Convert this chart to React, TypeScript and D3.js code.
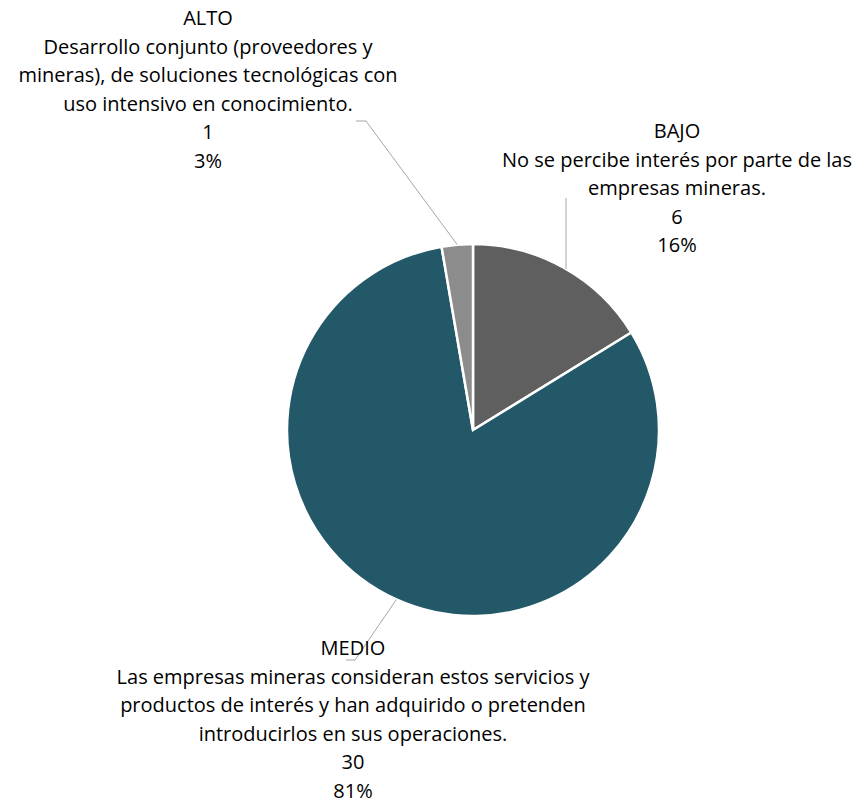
import React from "react";
import * as d3 from "d3";

const categories = ["BAJO", "MEDIO", "ALTO"];
const descriptions = [
  ["No se percibe interés por parte de las", "empresas mineras."],
  ["Las empresas mineras consideran estos servicios y", "productos de interés y han adquirido o pretenden", "introducirlos en sus operaciones."],
  ["Desarrollo conjunto (proveedores y", "mineras), de soluciones tecnológicas con", "uso intensivo en conocimiento."],
];
const values = [6, 30, 1];
const percents = ["16%", "81%", "3%"];
const colors = ["#5f5f5f", "#225868", "#8c8c8c"];

const W = 865, H = 802;
const cx = 473, cy = 430, R = 186;
const LH = 28.5;
const FONT = "'Open Sans', sans-serif";
const FS = 20;

// label anchors: center x, first baseline
const labelPos = [
  { x: 677, y: 138 },
  { x: 353, y: 655 },
  { x: 208, y: 25 },
];
// leader lines (label end points)
const leaders = [
  [[566, 198], [566, 198]],
  [[355, 660], [346, 660]],
  [[366, 121], [356, 121]],
];

export default function App() {
  const pie = d3.pie<number>().sort(null).value((d) => d);
  const arcs = pie(values);
  const arc = d3.arc<d3.PieArcDatum<number>>().innerRadius(0).outerRadius(R);

  return (
    <svg width={W} height={H} style={{ display: "block", position: "absolute", left: 0, top: 0 }}>
      <rect width={W} height={H} fill="#fff" />
      <g transform={`translate(${cx},${cy})`}>
        {arcs.map((a, i) => (
          <path key={i} d={arc(a) || ""} fill={colors[i]} stroke="#fff" strokeWidth={2.5} />
        ))}
      </g>
      {arcs.map((a, i) => {
        const mid = (a.startAngle + a.endAngle) / 2;
        let px = cx + Math.sin(mid) * R;
        let py = cy - Math.cos(mid) * R;
        if (i === 0) { px = 566; py = cy - Math.sqrt(R * R - (566 - cx) ** 2); }
        const [p1, p2] = leaders[i];
        return (
          <polyline
            key={"l" + i}
            points={`${px},${py} ${p1[0]},${p1[1]} ${p2[0]},${p2[1]}`}
            fill="none"
            stroke="#a6a6a6"
            strokeWidth={1}
          />
        );
      })}
      {categories.map((c, i) => {
        const lines = [c, ...descriptions[i], String(values[i]), percents[i]];
        return (
          <text key={"t" + i} x={labelPos[i].x} y={labelPos[i].y} textAnchor="middle" fontFamily={FONT} fontSize={FS} fill="#000">
            {lines.map((ln, j) => (
              <tspan key={j} x={labelPos[i].x} y={labelPos[i].y + j * LH}>{ln}</tspan>
            ))}
          </text>
        );
      })}
    </svg>
  );
}
